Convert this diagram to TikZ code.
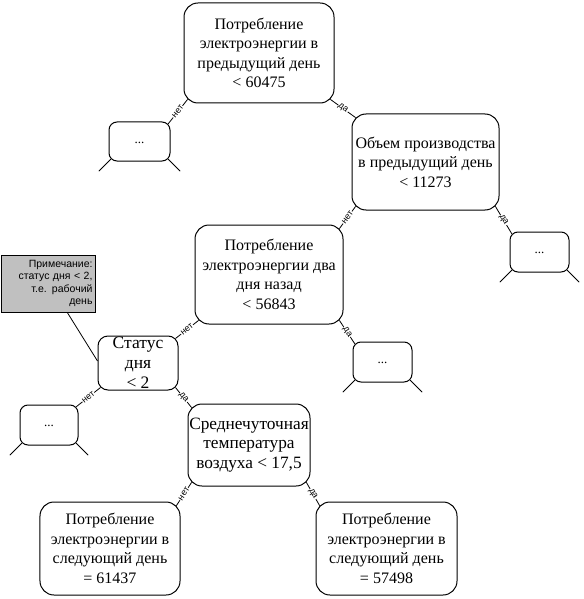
\documentclass[tikz,border=0pt]{standalone}
\usepackage{fontspec}
\setmainfont{Liberation Serif}
\newfontfamily\labsans{Liberation Sans}
\usetikzlibrary{calc}
\definecolor{notegray}{RGB}{192,192,192}
\tikzset{
  bigbox/.style={draw, line width=1bp, rounded corners=14bp, align=center, inner sep=0pt,
    font=\fontsize{16bp}{19.5bp}\selectfont},
  dotbox/.style={draw, line width=1bp, rounded corners=8bp, inner sep=0pt,
    font=\fontsize{13bp}{15bp}\selectfont},
  conn/.style={line width=0.8bp},
  lab/.style={font=\labsans\fontsize{9bp}{10bp}\selectfont, fill=white, inner sep=0.5bp, sloped, midway},
  notebox/.style={draw, line width=1bp, fill=notegray, align=right, inner sep=0pt,
    font=\labsans\fontsize{10.5bp}{12.5bp}\selectfont}
}
\newcommand{\mydots}{\raisebox{-4bp}{...}}
\begin{document}
\begin{tikzpicture}[x=1bp, y=-1bp]
\useasboundingbox (0,0) rectangle (584,599);
% main nodes
\node[bigbox, minimum width=150bp, minimum height=100bp] (root) at (259,53)
  {Потребление\\электроэнергии в\\предыдущий день\\< 60475};
\node[bigbox, minimum width=147bp, minimum height=96bp] (b2) at (425.5,162)
  {Объем производства\\в предыдущий день\\< 11273};
\node[bigbox, minimum width=148bp, minimum height=99bp] (b3) at (269,274.5)
  {Потребление\\электроэнергии два\\дня назад\\< 56843};
\node[bigbox, minimum width=80bp, minimum height=54bp, rounded corners=10bp,
  font=\fontsize{17.5bp}{20bp}\selectfont] (st) at (138,363)
  {Статус\\дня\\< 2};
\node[bigbox, minimum width=122bp, minimum height=82bp,
  font=\fontsize{17.3bp}{19.5bp}\selectfont] (b5) at (249,445)
  {Среднечуточная\\температура\\воздуха < 17,5};
\node[bigbox, minimum width=140bp, minimum height=93bp] (lfL) at (110,548.5)
  {Потребление\\электроэнергии в\\следующий день\\= 61437};
\node[bigbox, minimum width=141bp, minimum height=93bp] (lfR) at (386.5,548.5)
  {Потребление\\электроэнергии в\\следующий день\\= 57498};
% dots boxes
\node[dotbox, minimum width=61bp, minimum height=39bp] (d1) at (139.5,141.5) {\mydots};
\node[dotbox, minimum width=59bp, minimum height=40bp] (d2) at (539.5,252) {\mydots};
\node[dotbox, minimum width=59bp, minimum height=40bp] (d3) at (382.5,362) {\mydots};
\node[dotbox, minimum width=58bp, minimum height=40bp] (d4) at (49,425) {\mydots};
% legs of dots boxes
\foreach \d in {d1,d2,d3,d4}{
  \draw[conn] ($(\d.south west)+(2.3bp,2.3bp)$) -- ++(-12bp,-12bp);
  \draw[conn] ($(\d.south east)+(-2.3bp,2.3bp)$) -- ++(12bp,-12bp);
}
% note
\node[notebox, minimum width=93bp, minimum height=57bp, text width=88bp] (note) at (48.5,283.5)
  {Примечание:\\статус дня < 2,\\т.е. рабочий\\день};
\draw[conn] ($(note.south west)!0.7!(note.south east)$) -- ($(st.west)+(0,2bp)$);
% connectors
\draw[conn] ($(root.south west)+(4.1bp,4.1bp)$) -- node[lab]{нет} ($(d1.north east)+(-2.3bp,-2.3bp)$);
\draw[conn] ($(root.south east)+(-4.1bp,4.1bp)$) -- node[lab]{да} ($(b2.north west)+(4.1bp,-4.1bp)$);
\draw[conn] ($(b2.south west)+(4.1bp,4.1bp)$) -- node[lab]{нет} ($(b3.north east)+(-4.1bp,-4.1bp)$);
\draw[conn] ($(b2.south east)+(-4.1bp,4.1bp)$) -- node[lab]{да} ($(d2.north west)+(2.3bp,-2.3bp)$);
\draw[conn] ($(b3.south west)+(4.1bp,4.1bp)$) -- node[lab]{нет} ($(st.north east)+(-3bp,-3bp)$);
\draw[conn] ($(b3.south east)+(-4.1bp,4.1bp)$) -- node[lab]{да} ($(d3.north west)+(2.3bp,-2.3bp)$);
\draw[conn] ($(st.south west)+(3bp,3bp)$) -- node[lab]{нет} ($(d4.north east)+(-2.3bp,-2.3bp)$);
\draw[conn] ($(st.south east)+(-3bp,3bp)$) -- node[lab]{да} ($(b5.north west)+(4.1bp,-4.1bp)$);
\draw[conn] ($(b5.south west)+(4.1bp,4.1bp)$) -- node[lab]{нет} ($(lfL.north east)+(-4.1bp,-4.1bp)$);
\draw[conn] ($(b5.south east)+(-4.1bp,4.1bp)$) -- node[lab]{да} ($(lfR.north west)+(4.1bp,-4.1bp)$);
\end{tikzpicture}
\end{document}
